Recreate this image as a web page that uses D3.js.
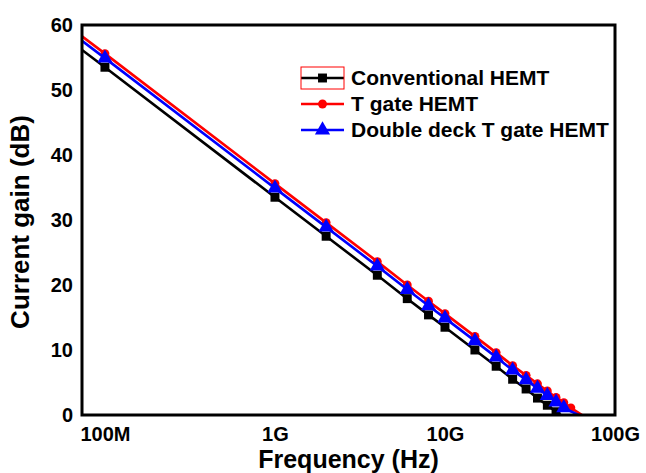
<!DOCTYPE html>
<html>
<head>
<meta charset="utf-8">
<script src="https://cdn.jsdelivr.net/npm/d3@7/dist/d3.min.js"></script>
<style>
  html, body { margin: 0; padding: 0; background: #fff; }
  svg { display: block; font-family: "Liberation Sans", Arial, sans-serif; font-weight: bold; }
</style>
</head>
<body>
<svg id="chart" width="646" height="473"></svg>
<script>
// Frequency points (Hz) for each curve; first point sits on the left axis edge,
// last point is where the gain reaches 0 dB.
const freqConv = [7.3e7, 1e8, 1e9, 2e9, 4e9, 6e9, 8e9, 1e10, 1.5e10, 2e10, 2.5e10, 3e10, 3.5e10, 4e10, 4.5e10, 4.8e10];
const gainConv = [56.2, 53.5, 33.5, 27.5, 21.5, 17.9, 15.4, 13.5, 10.0, 7.5, 5.5, 4.0, 2.6, 1.5, 0.5, 0.0];

const freqTgate = [7.3e7, 1e8, 1e9, 2e9, 4e9, 6e9, 8e9, 1e10, 1.5e10, 2e10, 2.5e10, 3e10, 3.5e10, 4e10, 4.5e10, 5e10, 5.5e10, 6.4e10];
const gainTgate = [58.3, 55.6, 35.6, 29.6, 23.6, 20.0, 17.5, 15.6, 12.1, 9.6, 7.6, 6.1, 4.8, 3.7, 2.7, 1.9, 1.1, 0.0];

const freqDouble = [7.3e7, 1e8, 1e9, 2e9, 4e9, 6e9, 8e9, 1e10, 1.5e10, 2e10, 2.5e10, 3e10, 3.5e10, 4e10, 4.5e10, 5e10, 6.1e10];
const gainDouble = [57.6, 54.9, 34.9, 28.9, 22.9, 19.3, 16.8, 14.9, 11.4, 8.9, 6.9, 5.4, 4.1, 3.0, 2.0, 1.1, 0.0];

const seriesNames = ["Conventional HEMT", "T gate HEMT", "Double deck T gate HEMT"];
const seriesColors = ["#000000", "#ff0000", "#0000ff"];
const seriesShapes = ["square", "circle", "triangle"];

const xTickValues = [1e8, 1e9, 1e10, 1e11];
const xTickLabels = ["100M", "1G", "10G", "100G"];
const yTickValues = [0, 10, 20, 30, 40, 50, 60];

const xTitle = "Frequency (Hz)";
const yTitle = "Current gain (dB)";

// ---------------------------------------------------------------
const svg = d3.select("#chart");
const plot = { left: 82, top: 25, right: 615, bottom: 415 };

const x = d3.scaleLog().domain([7.33e7, 1e11]).range([plot.left, plot.right]);
const y = d3.scaleLinear().domain([0, 60]).range([plot.bottom, plot.top]);

const series = [
  { f: freqConv, g: gainConv },
  { f: freqTgate, g: gainTgate },
  { f: freqDouble, g: gainDouble }
].map((s, i) => ({
  name: seriesNames[i],
  color: seriesColors[i],
  shape: seriesShapes[i],
  points: s.f.map((f, j) => ({ f, g: s.g[j] }))
}));

const symbolFor = {
  square: d3.symbol().type(d3.symbolSquare).size(80),
  circle: d3.symbol().type(d3.symbolCircle).size(62),
  triangle: d3.symbol().type(d3.symbolTriangle).size(100)
};

const clipId = "plot-clip";
svg.append("clipPath").attr("id", clipId)
  .append("rect")
  .attr("x", plot.left).attr("y", plot.top)
  .attr("width", plot.right - plot.left).attr("height", plot.bottom - plot.top);

const line = d3.line().x(d => x(d.f)).y(d => y(d.g));

const curves = svg.append("g").attr("clip-path", `url(#${clipId})`);
series.forEach(s => {
  const g = curves.append("g");
  g.append("path")
    .attr("d", line(s.points))
    .attr("fill", "none")
    .attr("stroke", s.color)
    .attr("stroke-width", 2.6);
  // markers on the interior points
  g.selectAll("path.marker")
    .data(s.points.slice(1, -1))
    .join("path")
    .attr("class", "marker")
    .attr("d", symbolFor[s.shape])
    .attr("transform", d => `translate(${x(d.f)},${y(d.g)})`)
    .attr("fill", s.color);
});

// Frame
svg.append("rect")
  .attr("x", plot.left).attr("y", plot.top)
  .attr("width", plot.right - plot.left).attr("height", plot.bottom - plot.top)
  .attr("fill", "none").attr("stroke", "#000").attr("stroke-width", 3);

// Axes (labels only, no tick marks)
const xAxis = d3.axisBottom(x).tickValues(xTickValues)
  .tickFormat((d, i) => xTickLabels[i]).tickSize(0).tickPadding(0);
const gx = svg.append("g").attr("transform", `translate(0,${plot.bottom})`).call(xAxis);
gx.select(".domain").remove();
gx.selectAll("text")
  .attr("y", 26).attr("dy", 0)
  .attr("font-size", 20).attr("font-weight", "bold")
  .attr("font-family", "'Liberation Sans', Arial, sans-serif")
  .attr("fill", "#000");

const yAxis = d3.axisLeft(y).tickValues(yTickValues).tickSize(0).tickPadding(9);
const gy = svg.append("g").attr("transform", `translate(${plot.left},0)`).call(yAxis);
gy.select(".domain").remove();
gy.selectAll("text")
  .attr("font-size", 20).attr("font-weight", "bold")
  .attr("font-family", "'Liberation Sans', Arial, sans-serif")
  .attr("fill", "#000");

// Axis titles
svg.append("text")
  .attr("x", (plot.left + plot.right) / 2).attr("y", 468)
  .attr("text-anchor", "middle").attr("font-size", 25)
  .text(xTitle);

svg.append("text")
  .attr("transform", `translate(29,${(plot.top + plot.bottom) / 2 + 2}) rotate(-90)`)
  .attr("text-anchor", "middle").attr("font-size", 26)
  .text(yTitle);

// Legend
const legend = svg.append("g");
const legX0 = 301, legX1 = 344, legTextX = 351;
const legRowY = [78, 104, 130];
series.forEach((s, i) => {
  const ly = legRowY[i];
  legend.append("line")
    .attr("x1", legX0).attr("x2", legX1).attr("y1", ly).attr("y2", ly)
    .attr("stroke", s.color).attr("stroke-width", 2.6);
  legend.append("path")
    .attr("d", symbolFor[s.shape])
    .attr("transform", `translate(${(legX0 + legX1) / 2},${ly})`)
    .attr("fill", s.color);
  legend.append("text")
    .attr("x", legTextX).attr("y", ly + 7)
    .attr("font-size", 21)
    .text(s.name);
});
// outline box around the first legend symbol
legend.append("rect")
  .attr("x", legX0).attr("y", 67).attr("width", legX1 - legX0).attr("height", 22)
  .attr("fill", "none").attr("stroke", "#ff0000").attr("stroke-width", 1);
</script>
</body>
</html>
